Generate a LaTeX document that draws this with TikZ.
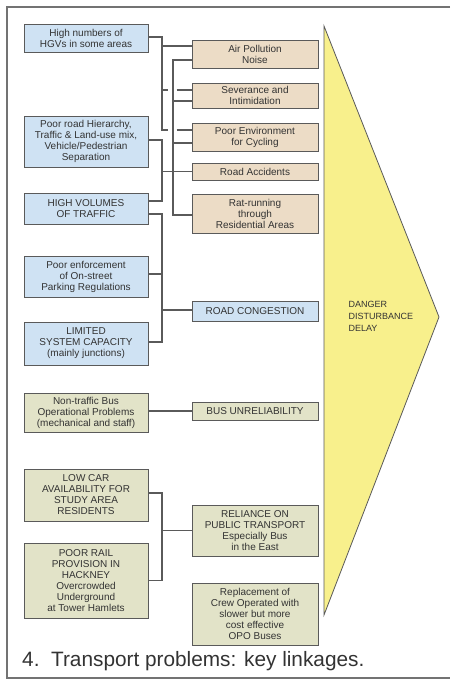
\documentclass[tikz,border=0pt]{standalone}
\usepackage{fontspec}
\setmainfont{Liberation Sans}
\usetikzlibrary{calc}
\definecolor{bluebox}{HTML}{CFE2F3}
\definecolor{tanbox}{HTML}{ECDCC6}
\definecolor{greenbox}{HTML}{E2E3C8}
\definecolor{yellowarrow}{HTML}{F8F08C}
\definecolor{ink}{HTML}{333333}
\definecolor{edge}{HTML}{5A5A5A}
\tikzset{
  box/.style={draw=edge, line width=0.9pt, align=center, text=ink, inner sep=1pt,
    font=\fontsize{10}{11}\selectfont},
  lbox/.style={box, minimum width=124pt},
  rbox/.style={box, minimum width=126pt},
  link/.style={draw=edge, line width=1.3pt},
}
\begin{document}
\begin{tikzpicture}[x=1pt,y=-1pt]
\useasboundingbox (0,0) rectangle (450,680);
\fill[white] (0,0) rectangle (450,680);
\draw[line width=1.5pt, color=black!55] (450,7) -- (7,7) -- (7,678) -- (450,678);

% yellow arrow
\filldraw[fill=yellowarrow, draw=edge, line width=0.8pt] (324,26) -- (439,317) -- (324,615) -- cycle;
\node[anchor=west, align=left, text=ink, font=\fontsize{9}{12}\selectfont] (ddd) at (345,316)
  {DANGER\\DISTURBANCE\\DELAY};

% left boxes
\node[lbox, fill=bluebox, minimum height=28pt] (hgv) at (86,38) {High numbers of\\HGVs in some areas};
\node[lbox, fill=bluebox, minimum height=51pt] (prh) at (86,141.5) {Poor road Hierarchy,\\Traffic \& Land-use mix,\\Vehicle/Pedestrian\\Separation};
\node[lbox, fill=bluebox, minimum height=31pt] (hv) at (86,208.5) {HIGH VOLUMES\\OF TRAFFIC};
\node[lbox, fill=bluebox, minimum height=41pt] (pef) at (86,276.5) {Poor enforcement\\of On-street\\Parking Regulations};
\node[lbox, fill=bluebox, minimum height=43pt] (lsc) at (86,343.5) {LIMITED\\SYSTEM CAPACITY\\(mainly junctions)};
\node[lbox, fill=greenbox, minimum height=39pt] (ntb) at (86,412.5) {Non-traffic Bus\\Operational Problems\\(mechanical and staff)};
\node[lbox, fill=greenbox, minimum height=52pt] (lca) at (86,495) {LOW CAR\\AVAILABILITY FOR\\STUDY AREA\\RESIDENTS};
\node[lbox, fill=greenbox, minimum height=75pt] (prp) at (86,580.5) {POOR RAIL\\PROVISION IN\\HACKNEY\\Overcrowded\\Underground\\at Tower Hamlets};

% right boxes
\node[rbox, fill=tanbox, minimum height=28pt] (air) at (255,54) {Air Pollution\\Noise};
\node[rbox, fill=tanbox, minimum height=25pt] (sev) at (255,95.5) {Severance and\\Intimidation};
\node[rbox, fill=tanbox, minimum height=28pt] (pen) at (255,137) {Poor Environment\\for Cycling};
\node[rbox, fill=tanbox, minimum height=17pt] (rac) at (255,171.5) {Road Accidents};
\node[rbox, fill=tanbox, minimum height=39pt] (rat) at (255,213.5) {Rat-running\\through\\Residential Areas};
\node[rbox, fill=bluebox, minimum height=20pt] (rco) at (255,311) {ROAD CONGESTION};
\node[rbox, fill=greenbox, minimum height=18pt] (bun) at (255,411) {BUS UNRELIABILITY};
\node[rbox, fill=greenbox, minimum height=51pt] (rel) at (255,530.5) {RELIANCE ON\\PUBLIC TRANSPORT\\Especially Bus\\in the East};
\node[rbox, fill=greenbox, minimum height=62pt] (rep) at (255,614) {Replacement of\\Crew Operated with\\slower but more\\cost effective\\OPO Buses};

% bus columns
\coordinate (xa) at (162,0);
\coordinate (xb) at (173,0);

% HGV feed (crosses column xb with gaps)
\draw[link] ($(hgv.east)+(0,-1)$) -| ($(pen.west -| xa)+(0,-7)$) -- ++(6,0);
\draw[link] ($(pen.west)+(-15,-7)$) -- ($(pen.west)+(0,-7)$);
\draw[link] ($(air.west -| xa)+(0,-8)$) -- ($(air.west)+(0,-8)$);
\draw[link] ($(sev.west -| xa)+(0,-5.5)$) -- ++(6,0);
\draw[link] ($(sev.west)+(-15,-5.5)$) -- ($(sev.west)+(0,-5.5)$);

% column xb distributing to environmental effects
\draw[link] ($(air.west)+(0,6)$) -| ($(rat.west -| xb)+(0,1.5)$) -- ($(rat.west)+(0,1.5)$);
\draw[link] ($(sev.west -| xb)+(0,5.5)$) -- ($(sev.west)+(0,5.5)$);
\draw[link] ($(pen.west -| xb)+(0,6)$) -- ($(pen.west)+(0,6)$);

% Poor road hierarchy + high volumes bracket
\draw[link] ($(prh.east)+(0,-1.5)$) -| ($(hv.east -| xa)+(0,-7.5)$) -- ($(hv.east)+(0,-7.5)$);
\draw[link] (rac.west -| xa) -- (rac.west);

% congestion bracket
\draw[link] ($(hv.east)+(0,5.5)$) -| ($(lsc.east -| xa)+(0,-1.5)$) -- ($(lsc.east)+(0,-1.5)$);
\draw[link] ($(pef.east)+(0,-2.5)$) -- ($(pef.east -| xa)+(0,-2.5)$);
\draw[link] ($(rco.west -| xa)+(0,-1)$) -- ($(rco.west)+(0,-1)$);

% bus unreliability
\draw[link] (bun.west -| ntb.east) -- (bun.west);

% public transport bracket
\draw[link] ($(lca.east)+(0,-2)$) -| ($(prp.east -| xa)$) -- (prp.east);
\draw[link] (rel.west -| xa) -- (rel.west);

% caption
\node[anchor=base west, text=ink, font=\fontsize{20.8}{24}\selectfont, inner sep=0pt] (cap) at (22,666)
  {4.\ \ Transport problems: key linkages.};
\end{tikzpicture}
\end{document}
